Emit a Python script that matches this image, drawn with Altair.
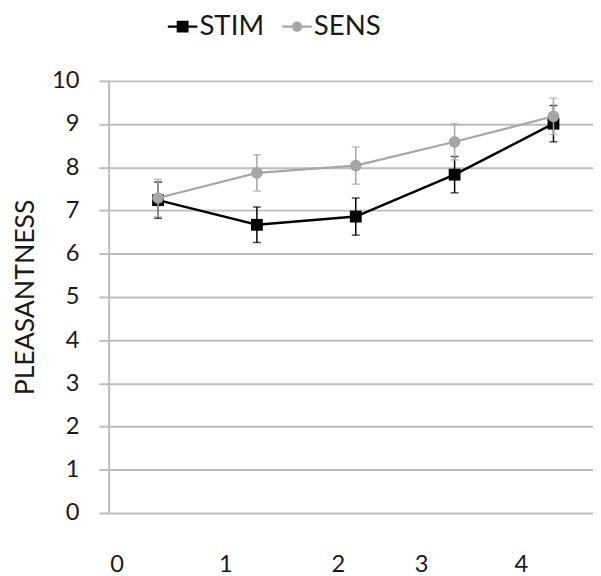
import altair as alt
import pandas as pd

series = ["STIM", "SENS"]
colors = ["#000000", "#a6a6a6"]
steps = [0, 1, 2, 3, 4]
stim_mean = [7.24, 6.67, 6.86, 7.83, 9.01]
stim_err = [0.42, 0.41, 0.43, 0.42, 0.42]
sens_mean = [7.29, 7.87, 8.04, 8.59, 9.18]
sens_err = [0.43, 0.42, 0.43, 0.42, 0.42]
x_tick_labels = ["0", "1", "2", "3", "4"]
x_tick_pos = [-0.42, 0.68, 1.82, 2.66, 3.67]
y_ticks = list(range(0, 11))

rows = []
for s, means, errs in [("STIM", stim_mean, stim_err), ("SENS", sens_mean, sens_err)]:
    for st, m, e in zip(steps, means, errs):
        rows.append({"series": s, "step": st, "value": m, "lo": m - e, "hi": m + e})
df = pd.DataFrame(rows)

FONT = "Lato"
xscale = alt.Scale(domain=[-0.5, 4.4], nice=False, zero=False)
yscale = alt.Scale(domain=[0, 10], nice=False)

label_expr = "[" + ",".join("'%s'" % t for t in x_tick_labels) + "][indexof([" + ",".join(str(p) for p in x_tick_pos) + "], datum.value)]"

x_enc = alt.X("step:Q", scale=xscale, title=None,
              axis=alt.Axis(values=x_tick_pos, labelExpr=label_expr, ticks=False, domain=False,
                            grid=False, labelPadding=40, labelFont=FONT, labelFontSize=24,
                            labelColor="#1a1a1a"))
y_enc = alt.Y("value:Q", scale=yscale, title="PLEASANTNESS",
              axis=alt.Axis(values=y_ticks, grid=True, gridColor="#bdbdbd", gridWidth=2,
                            domainColor="#bdbdbd", domainWidth=2, tickColor="#bdbdbd",
                            tickWidth=2, tickSize=10, labelPadding=20, labelFont=FONT,
                            labelFontSize=24, labelColor="#1a1a1a", titleFont=FONT,
                            titleFontSize=27, titleFontWeight="normal", titleColor="#1a1a1a",
                            titleX=-84, titleY=219, titleAlign="center", titleBaseline="middle",
                            titleAngle=270))

legend_shapes = [
    "M-1,-0.08H1V0.08H-1Z M-0.4,-0.4H0.4V0.4H-0.4Z",
    "M-1,-0.07H1V0.07H-1Z M0.34,0A0.34,0.34,0,1,1,-0.34,0A0.34,0.34,0,1,1,0.34,0Z",
]
legend = alt.Legend(orient="none", legendX=60, legendY=-70, direction="horizontal", title=None,
                    labelFont=FONT, labelFontSize=28, labelColor="#1a1a1a", symbolSize=900,
                    columnPadding=18, labelOffset=2, symbolOpacity=1, symbolStrokeWidth=0)

base = alt.Chart(df)
layers = []
for s, c, lw in [("STIM", colors[0], 2.5), ("SENS", colors[1], 2.2)]:
    b = base.transform_filter(alt.datum.series == s)
    layers.append(b.mark_rule(strokeWidth=1.5, color=c).encode(x=x_enc, y=alt.Y("lo:Q", scale=yscale), y2="hi:Q"))
    layers.append(b.mark_tick(orient="horizontal", size=8, thickness=1.5, color=c)
                  .encode(x=x_enc, y=alt.Y("lo:Q", scale=yscale)))
    layers.append(b.mark_tick(orient="horizontal", size=8, thickness=1.5, color=c)
                  .encode(x=x_enc, y=alt.Y("hi:Q", scale=yscale)))
    layers.append(b.mark_line(strokeWidth=lw, color=c).encode(x=x_enc, y=y_enc))
    shape = "square" if s == "STIM" else "circle"
    size = 144 if s == "STIM" else 140
    layers.append(b.mark_point(shape=shape, filled=True, size=size, opacity=1, color=c)
                  .encode(x=x_enc, y=y_enc))

# legend-only layer (draws no marks)
layers.append(base.transform_filter("false").mark_point(filled=True, opacity=1).encode(
    x=x_enc, y=y_enc,
    color=alt.Color("series:N", scale=alt.Scale(domain=series, range=colors), legend=legend),
    shape=alt.Shape("series:N", scale=alt.Scale(domain=series, range=legend_shapes), legend=legend),
))

chart = alt.layer(*layers).properties(
    width=491, height=438,
    autosize=alt.AutoSizeParams(type="none"),
    padding={"left": 102, "top": 70, "right": 0, "bottom": 60},
).configure_view(stroke=None).configure(background="white")

chart.save("out.html", embed_options={"renderer": "svg", "actions": False})
